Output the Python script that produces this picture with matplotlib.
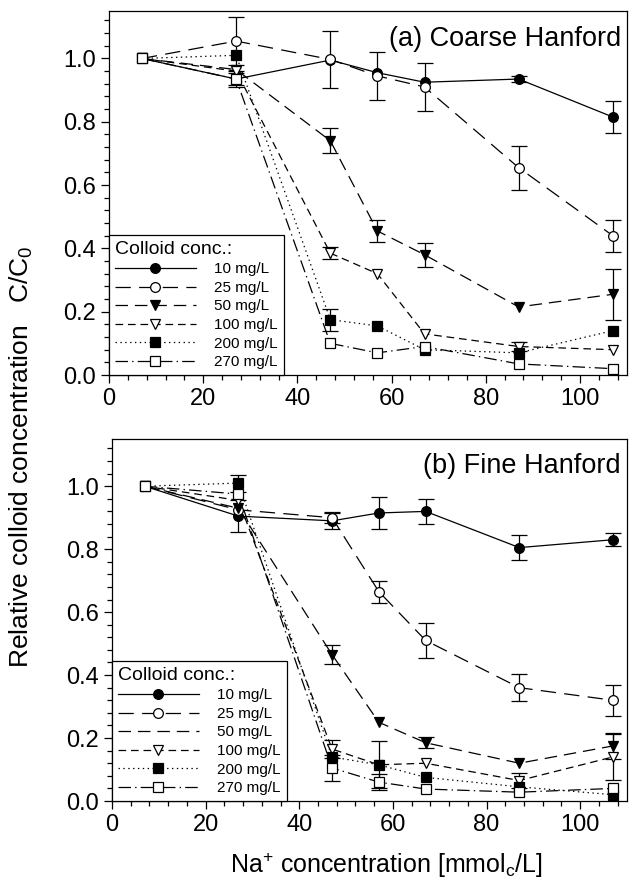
import matplotlib
matplotlib.use("Agg")
import matplotlib.pyplot as plt
from matplotlib.ticker import MultipleLocator, FormatStrFormatter
from matplotlib.lines import Line2D

plt.rcParams['font.family'] = ['Liberation Sans', 'DejaVu Sans']
plt.rcParams['mathtext.fontset'] = 'custom'
plt.rcParams['mathtext.rm'] = 'Liberation Sans'
plt.rcParams['mathtext.it'] = 'Liberation Sans:italic'
plt.rcParams['lines.scale_dashes'] = False

# Na+ concentration (mmolc/L)
na_conc = [7, 27, 47, 57, 67, 87, 107]
conc_labels = ['10 mg/L', '25 mg/L', '50 mg/L', '100 mg/L', '200 mg/L', '270 mg/L']

# (a) Coarse Hanford, C/C0 and error half-widths
coarse_10 = [1.0, 0.935, 0.995, 0.955, 0.925, 0.935, 0.815]
coarse_10_err = [0, 0.025, 0.0, 0.0, 0.0, 0.01, 0.05]
coarse_25 = [1.0, 1.055, 0.997, 0.945, 0.91, 0.655, 0.44]
coarse_25_err = [0, 0.075, 0.09, 0.075, 0.075, 0.07, 0.05]
coarse_50 = [1.0, 0.965, 0.74, 0.455, 0.38, 0.215, 0.255]
coarse_50_err = [0, 0.0, 0.04, 0.035, 0.038, 0.0, 0.08]
coarse_100 = [1.0, 0.96, 0.385, 0.32, 0.13, 0.09, 0.08]
coarse_100_err = [0, 0.0, 0.018, 0.0, 0.0, 0.015, 0.0]
coarse_200 = [1.0, 1.01, 0.175, 0.155, 0.08, 0.07, 0.14]
coarse_200_err = [0, 0.0, 0.035, 0.0, 0.0, 0.0, 0.0]
coarse_270 = [1.0, 0.935, 0.10, 0.07, 0.09, 0.035, 0.02]
coarse_270_err = [0, 0.02, 0.0, 0.0, 0.0, 0.0, 0.0]

# (b) Fine Hanford
fine_10 = [1.0, 0.905, 0.89, 0.915, 0.92, 0.805, 0.83]
fine_10_err = [0, 0.05, 0.025, 0.05, 0.04, 0.04, 0.02]
fine_25 = [1.0, 0.925, 0.90, 0.665, 0.51, 0.36, 0.32]
fine_25_err = [0, 0.0, 0.018, 0.035, 0.055, 0.042, 0.05]
fine_50 = [1.0, 0.93, 0.465, 0.25, 0.185, 0.12, 0.175]
fine_50_err = [0, 0.0, 0.03, 0.0, 0.018, 0.0, 0.04]
fine_100 = [1.0, 0.955, 0.165, 0.115, 0.12, 0.065, 0.14]
fine_100_err = [0, 0.0, 0.028, 0.0, 0.0, 0.025, 0.072]
fine_200 = [1.0, 1.01, 0.14, 0.115, 0.075, 0.045, 0.02]
fine_200_err = [0, 0.027, 0.0, 0.075, 0.0, 0.0, 0.0]
fine_270 = [1.0, 0.975, 0.105, 0.06, 0.038, 0.028, 0.04]
fine_270_err = [0, 0.0, 0.04, 0.025, 0.0, 0.0, 0.0]

styles = [
    dict(ls='-', marker='o', mfc='black'),
    dict(ls=(0, (11, 6)), marker='o', mfc='white'),
    dict(ls=(0, (9, 5)), marker='v', mfc='black'),
    dict(ls=(0, (5.5, 3.5)), marker='v', mfc='white'),
    dict(ls=(0, (1, 2.5)), marker='s', mfc='black'),
    dict(ls=(0, (9, 3, 1, 3)), marker='s', mfc='white'),
]


def draw_panel(ax, series, errors, title, legend_skip_marker=()):
    for y, err, st in zip(series, errors, styles):
        ax.plot(na_conc, y, color='black', lw=0.9, ls=st['ls'], zorder=2)
        xs = [x for x, e in zip(na_conc, err) if e > 0]
        ys = [v for v, e in zip(y, err) if e > 0]
        es = [e for e in err if e > 0]
        if xs:
            ax.errorbar(xs, ys, yerr=es, fmt='none', ecolor='black',
                        elinewidth=0.9, capsize=5.5, capthick=0.9, zorder=3)
        ax.plot(na_conc, y, ls='none', marker=st['marker'], ms=7,
                mfc=st['mfc'], mec='black', mew=0.9, zorder=4)

    ax.set_xlim(0, 110)
    ax.set_ylim(0, 1.15)
    ax.xaxis.set_major_locator(MultipleLocator(20))
    ax.xaxis.set_minor_locator(MultipleLocator(4))
    ax.yaxis.set_major_locator(MultipleLocator(0.2))
    ax.yaxis.set_minor_locator(MultipleLocator(0.04))
    ax.yaxis.set_major_formatter(FormatStrFormatter('%.1f'))
    ax.tick_params(which='both', direction='out', top=False, right=False,
                   labelsize=17, width=0.9)
    ax.tick_params(which='major', length=6)
    ax.tick_params(which='minor', length=3.5)
    for sp in ax.spines.values():
        sp.set_linewidth(0.9)
    ax.text(0.988, 0.96, title, transform=ax.transAxes, ha='right', va='top',
            fontsize=19.5)

    handles = []
    for i, st in enumerate(styles):
        handles.append(Line2D([], [], color='black', lw=0.9, ls=st['ls'],
                              marker=None if i in legend_skip_marker else st['marker'],
                              ms=7, mfc=st['mfc'], mec='black', mew=0.9))
    leg = ax.legend(handles, conc_labels, loc='lower left', bbox_to_anchor=(0, 0),
                    borderaxespad=0, fontsize=11, title='Colloid conc.:',
                    title_fontsize=14, alignment='left', handlelength=5.3,
                    handletextpad=1.2, labelspacing=0.3, borderpad=0.38,
                    fancybox=False, edgecolor='black', framealpha=1)
    leg.get_frame().set_linewidth(0.9)


fig = plt.figure(figsize=(6.3, 8.88), dpi=100)
ax_a = fig.add_axes([109 / 630, 1 - 375 / 888, 518 / 630, 364 / 888])
ax_b = fig.add_axes([112 / 630, 1 - 801 / 888, 515 / 630, 362 / 888])

draw_panel(ax_a,
           [coarse_10, coarse_25, coarse_50, coarse_100, coarse_200, coarse_270],
           [coarse_10_err, coarse_25_err, coarse_50_err, coarse_100_err,
            coarse_200_err, coarse_270_err],
           '(a) Coarse Hanford')
draw_panel(ax_b,
           [fine_10, fine_25, fine_50, fine_100, fine_200, fine_270],
           [fine_10_err, fine_25_err, fine_50_err, fine_100_err,
            fine_200_err, fine_270_err],
           '(b) Fine Hanford', legend_skip_marker=(2,))

fig.text(0.034, 0.486, 'Relative colloid concentration   C/C$_0$',
         rotation=90, ha='center', va='center', fontsize=19)
fig.text(0.613, 0.026, 'Na$^{+}$ concentration [mmol$_\\mathrm{c}$/L]',
         ha='center', va='center', fontsize=18)

fig.savefig('out.png', dpi=100)
